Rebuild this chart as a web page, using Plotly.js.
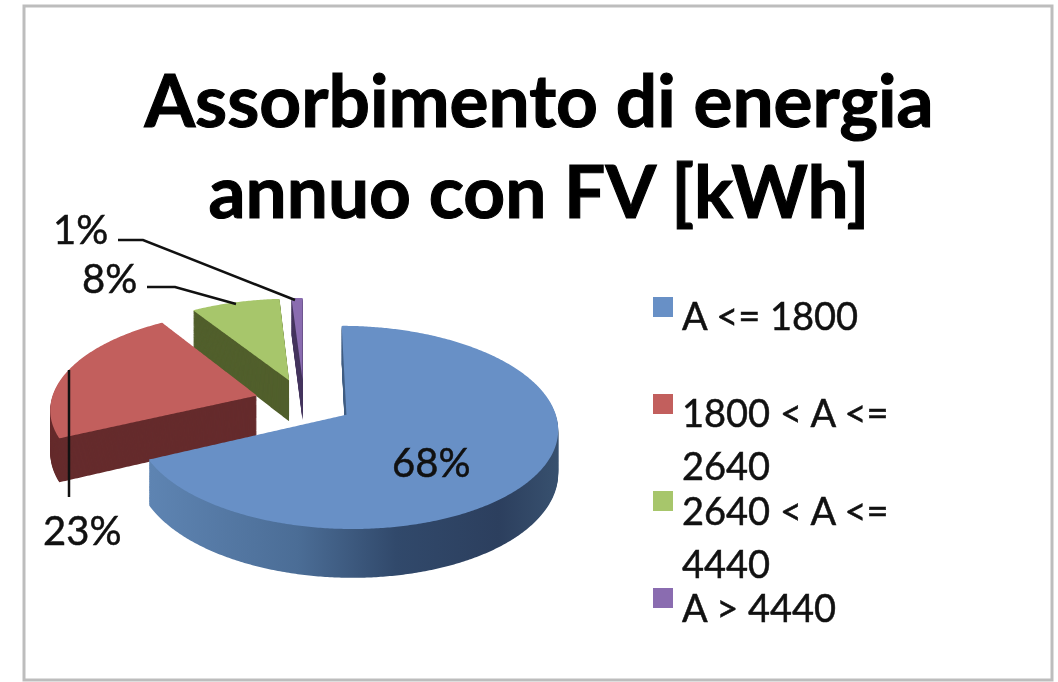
<!DOCTYPE html>
<html><head><meta charset="utf-8">
<script src="https://cdn.plot.ly/plotly-3.0.1.min.js"></script>
<style>html,body{margin:0;padding:0;background:#fff}#chart{width:1058px;height:682px;filter:blur(0.7px)}
.annotation-text{stroke:#111;stroke-width:0.5px}
.gtitle{stroke:#000;stroke-width:1.1px}</style>
</head><body><div id="chart"></div>
<script>
const categories = ["A <= 1800", "1800 < A <= 2640", "2640 < A <= 4440", "A > 4440"];
const values = [68, 23, 8, 1];
const topColors = ["#6890c6", "#c25f5d", "#a7c66b", "#8a6cb0"];
const sideColors = ["#45658c", "#652b2c", "#515f2c", "#46365f"];
const FONT = "Lato, 'Open Sans', sans-serif";

// view of the tilted pie
const pull = 0.24, radius = 206, layers = 42, depth = 42;
const view = {cx: 304, cy: 402, tilt: 0.47, persp: 0.0006};
const W = 1058, H = 682, pcx = W / 2, pcy = H / 2, R = radius * (1 + pull);

const traces = [];
for (let i = 0; i < layers; i++) {
  const isTop = i === layers - 1;
  traces.push({
    type: "pie", labels: categories, values: values, sort: false, direction: "clockwise", rotation: 0,
    pull: values.map(() => pull), textinfo: "none", hoverinfo: "skip", showlegend: false,
    domain: {x: [(pcx - R) / W, (pcx + R) / W], y: [(pcy - R) / H, (pcy + R) / H]},
    marker: {colors: isTop ? topColors : sideColors, line: {width: 0}}
  });
}

const px = (x) => x / W, py = (y) => 1 - y / H;
const txt = (text, x, y, xanchor, size) => ({
  text, x: px(x), y: py(y), xref: "paper", yref: "paper", xanchor: xanchor || "center", yanchor: "middle",
  showarrow: false, font: {family: FONT, size: size || 40, color: "#111"}
});
const lines = (d) => ({type: "path", xref: "paper", yref: "paper", path: d, line: {color: "#111", width: 2.5}});
const P = (pts) => "M" + pts.map(p => px(p[0]) + "," + py(p[1])).join("L");
const square = (x, y, c) => ({type: "rect", xref: "paper", yref: "paper", x0: px(x), x1: px(x + 20), y0: py(y), y1: py(y + 20), fillcolor: c, line: {width: 0}});

const legendRows = [
  [680, 315, "A <= 1800"], [680, 412, "1800 < A <="], [680, 465, "2640"],
  [680, 510, "2640 < A <="], [680, 563, "4440"], [680, 607, "A > 4440"]
];

const layout = {
  width: W, height: H, margin: {l: 0, r: 0, t: 0, b: 0}, paper_bgcolor: "#fff",
  title: {text: "Assorbimento di energia<br>annuo con FV [kWh]", x: 539 / W, xanchor: "center", y: 1 - 103 / H, yanchor: "middle",
    font: {family: FONT, size: 73, color: "#000", weight: 700}},
  showlegend: false,
  shapes: [
    {type: "rect", xref: "paper", yref: "paper", x0: px(24), x1: px(1052), y0: py(6), y1: py(680), line: {color: "#bdbdbd", width: 3}, fillcolor: "rgba(0,0,0,0)"},
    lines(P([[118, 240], [143, 240], [295, 300]])),
    lines(P([[147, 287], [175, 287], [236, 304]])),
    lines(P([[69, 370], [69, 497]])),
    square(653, 297, topColors[0]), square(653, 394, topColors[1]), square(653, 491, topColors[2]), square(653, 588, topColors[3])
  ],
  annotations: [
    txt(values[0] + "%", 431, 462), txt(values[1] + "%", 82, 530), txt(values[2] + "%", 109, 278), txt(values[3] + "%", 80, 229)
  ].concat(legendRows.map(r => txt(r[2], r[0], r[1], "left", 38)))
};

function project(x, y, h) {
  const u = x - pcx, v = y - pcy, w = 1 - view.persp * v;
  return [view.cx + u / w, view.cy + view.tilt * v / w + h * depth / w];
}

Plotly.newPlot("chart", traces, layout, {displayModeBar: false, staticPlot: true}).then(() => {
  const root = document.getElementById("chart");
  const svg = root.querySelector(".main-svg");
  const NS = "http://www.w3.org/2000/svg";
  const defs = svg.querySelector("defs") || svg.insertBefore(document.createElementNS(NS, "defs"), svg.firstChild);
  const grad = document.createElementNS(NS, "linearGradient");
  grad.setAttribute("id", "blueSide");
  grad.setAttribute("gradientUnits", "userSpaceOnUse");
  grad.setAttribute("x1", "150"); grad.setAttribute("x2", "560");
  grad.setAttribute("y1", "0"); grad.setAttribute("y2", "0");
  [[0, "#5e84b2"], [0.36, "#4b6d96"], [0.6, "#31496b"], [0.85, "#2c3f5e"], [1, "#38516f"]].forEach(s => {
    const st = document.createElementNS(NS, "stop");
    st.setAttribute("offset", s[0]); st.setAttribute("stop-color", s[1]);
    grad.appendChild(st);
  });
  defs.appendChild(grad);

  root.querySelectorAll(".pielayer g.trace").forEach((tr, i) => {
    const h = 1 - i / (layers - 1);
    tr.querySelectorAll("g.slice path.surface").forEach((path, j) => {
      const len = path.getTotalLength(), n = Math.max(24, Math.ceil(len / 2));
      const pts = [];
      for (let k = 0; k < n; k++) {
        const q = path.getPointAtLength(len * k / n);
        pts.push(project(q.x, q.y, h));
      }
      path.setAttribute("d", "M" + pts.map(p => p[0].toFixed(2) + "," + p[1].toFixed(2)).join("L") + "Z");
      if (j === 0 && i < layers - 1) path.style.fill = "url(#blueSide)";
    });
  });

  const titleText = root.querySelector(".gtitle");
  titleText.setAttribute("dy", "0");
  const baselines = [127, 218];
  titleText.querySelectorAll("tspan.line").forEach((s, i) => {
    s.setAttribute("dy", "0");
    s.setAttribute("y", baselines[i]);
  });
});
</script></body></html>
